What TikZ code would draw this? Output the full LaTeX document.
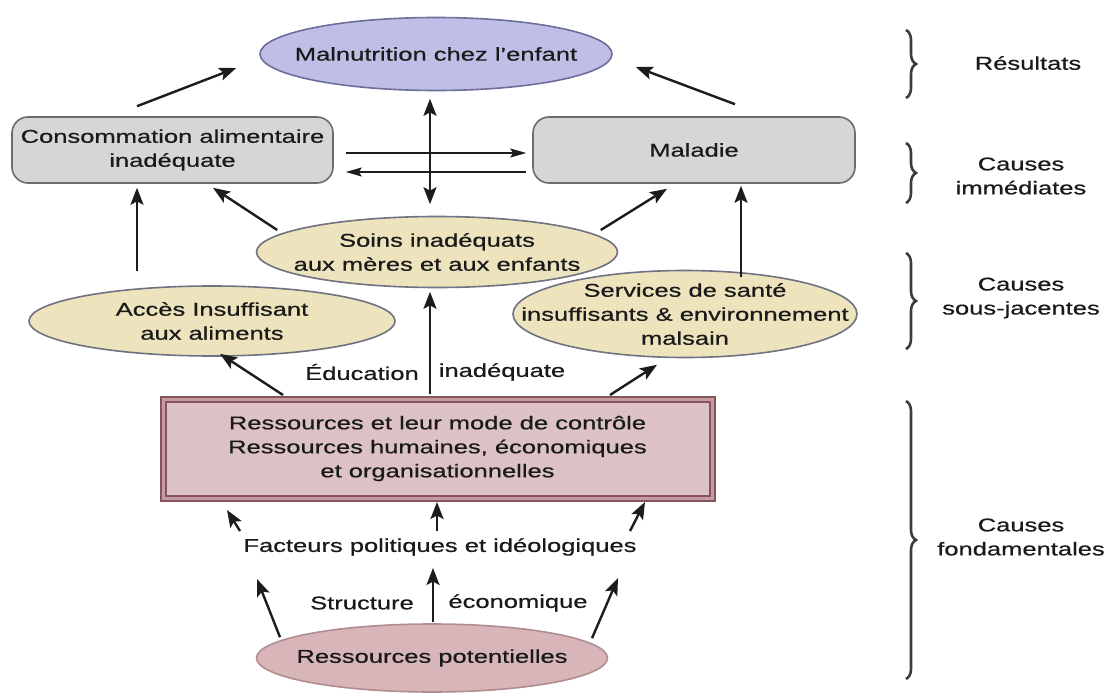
\documentclass[tikz,border=0pt]{standalone}
\usepackage{fontspec}
\setmainfont{Liberation Sans}[FakeStretch=1.38,FakeBold=0.6]
\usetikzlibrary{arrows.meta,decorations.pathreplacing,shapes.geometric}
\definecolor{txtc}{HTML}{1A1A1A}
\definecolor{arrc}{HTML}{1C1C1C}
\definecolor{lavfill}{HTML}{BEBEE6}
\definecolor{lavdraw}{HTML}{6E6E9C}
\definecolor{beigefill}{HTML}{EDE3BD}
\definecolor{beigedraw}{HTML}{6F7280}
\definecolor{greyfill}{HTML}{D6D6D6}
\definecolor{greydraw}{HTML}{6C6C6C}
\definecolor{resfill}{HTML}{DCC2C5}
\definecolor{resdraw}{HTML}{85545C}
\definecolor{resband}{HTML}{C49BA1}
\definecolor{potfill}{HTML}{D8B5B8}
\definecolor{potdraw}{HTML}{B08D91}
\definecolor{bracec}{HTML}{3C3C3C}
\begin{document}
\begin{tikzpicture}[x=1pt,y=-1pt,
  every node/.style={font=\fontsize{18.5}{24}\selectfont, text=txtc},
  txt/.style={align=center, inner sep=0pt},
  ellbase/.style={ellipse, line width=1.6pt, inner sep=0pt},
  elllav/.style={ellbase, draw=lavdraw, fill=lavfill},
  ellbeige/.style={ellbase, draw=beigedraw, fill=beigefill},
  ellpink/.style={ellbase, draw=potdraw, fill=potfill},
  greybox/.style={rectangle, rounded corners=16pt, draw=greydraw, fill=greyfill, line width=1.6pt, align=center},
  resbox/.style={rectangle, draw=resdraw, line width=2pt, double=resband, double distance=3pt, fill=resfill, align=center},
  arr/.style={draw=arrc, line width=2.4pt, -{Stealth[length=17pt,width=13pt,inset=3.5pt]}},
  darr/.style={draw=arrc, line width=2.4pt, {Stealth[length=17pt,width=13pt,inset=3.5pt]}-{Stealth[length=17pt,width=13pt,inset=3.5pt]}},
  harr/.style={draw=arrc, line width=1.6pt, -{Stealth[length=16pt,width=9pt,inset=3pt]}},
  brc/.style={draw=bracec, line width=2.6pt, decorate, decoration={brace, amplitude=10pt}}
]
\useasboundingbox[fill=white] (0,0) rectangle (1109,693);

% nodes
\node[elllav, minimum width=352pt, minimum height=73pt,
  label={[txt]center:Malnutrition chez l'enfant}] (mal) at (436,54) {};
\node[greybox, minimum width=321pt, minimum height=66pt] (cons) at (172.5,150)
  {Consommation alimentaire\\inadéquate};
\node[greybox, minimum width=322pt, minimum height=66pt] (mald) at (694,150) {Maladie};
\node[ellbeige, minimum width=361pt, minimum height=71pt,
  label={[txt]center:{Soins inadéquats\\aux mères et aux enfants}}] (soins) at (437,252) {};
\node[ellbeige, minimum width=366pt, minimum height=70pt,
  label={[txt]center:{Accès Insuffisant\\aux aliments}}] (acces) at (212,321) {};
\node[ellbeige, minimum width=344pt, minimum height=87pt,
  label={[txt]center:{Services de santé\\insuffisants \& environnement\\malsain}}] (serv) at (685,314) {};
\node[resbox, minimum width=549pt, minimum height=99pt] (res) at (437.5,448.5)
  {Ressources et leur mode de contrôle\\Ressources humaines, économiques\\et organisationnelles};
\node[ellpink, minimum width=351pt, minimum height=68pt,
  label={[txt]center:Ressources potentielles}] (pot) at (432,658) {};

\node[txt] (educ) at (362,372) {Éducation};
\node[txt] (inad) at (502,372) {inadéquate};
\node[txt] (fact) at (440,547) {Facteurs politiques et idéologiques};
\node[txt] (struct) at (362,603) {Structure};
\node[txt] (econ) at (518,603) {économique};

% right labels
\node[txt] (l1) at (1028,63) {Résultats};
\node[txt] (l2) at (1021,176) {Causes\\immédiates};
\node[txt] (l3) at (1021,298) {Causes\\sous-jacentes};
\node[txt] (l4) at (1021,537) {Causes\\fondamentales};

% braces
\coordinate (b1t) at (906,30);  \coordinate (b1b) at (906,98);
\coordinate (b2t) at (906,143); \coordinate (b2b) at (906,203);
\coordinate (b3t) at (906,253); \coordinate (b3b) at (906,349);
\coordinate (b4t) at (906,401); \coordinate (b4b) at (906,679);
\draw[brc] (b1t) -- (b1b);
\draw[brc] (b2t) -- (b2b);
\draw[brc] (b3t) -- (b3b);
\draw[brc] (b4t) -- (b4b);

% arrows
\draw[arr] ([xshift=-35.5pt,yshift=10pt]cons.north) -- ([xshift=-23pt,yshift=-14pt]mal.west);
\draw[arr] ([xshift=41pt,yshift=12pt]mald.north) -- ([xshift=23pt,yshift=-13pt]mal.east);
\draw[harr] ([xshift=12pt,yshift=-3pt]cons.east) -- ([xshift=-6pt,yshift=-3pt]mald.west);
\draw[harr] ([xshift=-6pt,yshift=-22pt]mald.west) -- ([xshift=12pt,yshift=-22pt]cons.east);
\draw[darr] ([xshift=-6pt,yshift=-7.5pt]mal.south) -- ([xshift=-7pt,yshift=11.5pt]soins.north);
\draw[arr] ([xshift=-75pt,yshift=14pt]acces.north) -- ([xshift=-35.5pt,yshift=-4pt]cons.south);
\draw[arr] ([xshift=21.5pt,yshift=22pt]soins.west) -- ([xshift=40.5pt,yshift=-4pt]cons.south);
\draw[arr] ([xshift=-17.5pt,yshift=22pt]soins.east) -- ([xshift=-27pt,yshift=-5pt]mald.south);
\draw[arr] ([xshift=56pt,yshift=-7.5pt]serv.north) -- ([xshift=47pt,yshift=-2pt]mald.south);
\draw[arr] ([xshift=-7.5pt,yshift=4pt]res.north) -- ([xshift=-7pt,yshift=-3.5pt]soins.south);
\draw[arr] ([xshift=-154.5pt,yshift=3pt]res.north) -- ([xshift=8pt,yshift=3pt]acces.south);
\draw[arr] ([xshift=172.5pt,yshift=3pt]res.north) -- ([xshift=-28pt,yshift=-6.5pt]serv.south);
\draw[arr] ([xshift=-200pt,yshift=16pt]fact.center) -- ([xshift=-210.5pt,yshift=-11pt]res.south);
\draw[arr] ([xshift=-3pt,yshift=16pt]fact.center) -- ([xshift=-0.5pt,yshift=-3pt]res.south);
\draw[arr] ([xshift=190pt,yshift=16pt]fact.center) -- ([xshift=207.5pt,yshift=-3pt]res.south);
\draw[arr] ([xshift=-152pt,yshift=-14pt]pot.north) -- ([xshift=-183pt,yshift=-32pt]fact.center);
\draw[arr] ([xshift=1pt,yshift=1pt]pot.north) -- ([xshift=-7pt,yshift=-21pt]fact.center);
\draw[arr] ([xshift=160pt,yshift=-15pt]pot.north) -- ([xshift=178pt,yshift=-31pt]fact.center);
\end{tikzpicture}
\end{document}
